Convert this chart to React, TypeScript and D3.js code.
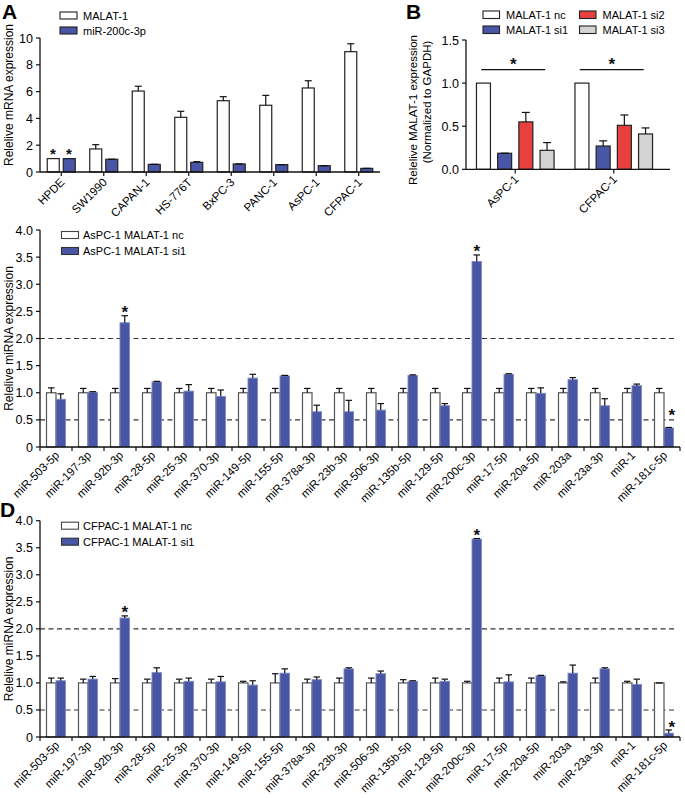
import React from "react";
import * as d3 from "d3";

// ---------- Panel A ----------
const aCats = ["HPDE", "SW1990", "CAPAN-1", "HS-776T", "BxPC-3", "PANC-1", "AsPC-1", "CFPAC-1"];
const aSeries = ["MALAT-1", "miR-200c-3p"];
const aMalat = [1.0, 1.72, 6.04, 4.08, 5.32, 4.98, 6.27, 8.98];
const aMalatErr = [0, 0.32, 0.36, 0.45, 0.3, 0.74, 0.54, 0.59];
const aMir = [1.0, 0.95, 0.57, 0.72, 0.6, 0.55, 0.47, 0.27];
const aMirErr = [0, 0.02, 0.02, 0.05, 0.03, 0.02, 0.03, 0.02];
const aTicks = [0, 2, 4, 6, 8, 10];

// ---------- Panel B ----------
const bCats = ["AsPC-1", "CFPAC-1"];
const bSeries = ["MALAT-1 nc", "MALAT-1 si1", "MALAT-1 si2", "MALAT-1 si3"];
const bNc = [1.0, 1.0];
const bNcErr = [0, 0];
const bSi1 = [0.186, 0.27];
const bSi1Err = [0.005, 0.06];
const bSi2 = [0.55, 0.51];
const bSi2Err = [0.11, 0.12];
const bSi3 = [0.22, 0.41];
const bSi3Err = [0.09, 0.07];
const bTicks = [0, 0.5, 1.0, 1.5];

// ---------- Panels C & D ----------
const mirs = [
  "miR-503-5p", "miR-197-3p", "miR-92b-3p", "miR-28-5p", "miR-25-3p", "miR-370-3p", "miR-149-5p",
  "miR-155-5p", "miR-378a-3p", "miR-23b-3p", "miR-506-3p", "miR-135b-5p", "miR-129-5p", "miR-200c-3p",
  "miR-17-5p", "miR-20a-5p", "miR-203a", "miR-23a-3p", "miR-1", "miR-181c-5p",
];
const cNc = [1, 1, 1, 1, 1, 1, 1, 1, 1, 1, 1, 1, 1, 1, 1, 1, 1, 1, 1, 1];
const cNcErr = [0.09, 0.08, 0.08, 0.08, 0.08, 0.08, 0.08, 0.08, 0.08, 0.08, 0.08, 0.08, 0.08, 0.08, 0.08, 0.08, 0.08, 0.08, 0.08, 0.08];
const cSi1 = [0.88, 1.01, 2.29, 1.2, 1.03, 0.93, 1.27, 1.31, 0.65, 0.65, 0.68, 1.32, 0.76, 3.42, 1.34, 0.99, 1.24, 0.76, 1.13, 0.35];
const cSi1Err = [0.1, 0.01, 0.13, 0.01, 0.12, 0.12, 0.07, 0.01, 0.12, 0.21, 0.12, 0.01, 0.04, 0.12, 0.01, 0.1, 0.04, 0.13, 0.03, 0.01];
const dNc = [1, 1, 1, 1, 1, 1, 1, 1, 1, 1, 1, 1, 1, 1, 1, 1, 1, 1, 1, 1];
const dNcErr = [0.09, 0.07, 0.08, 0.07, 0.07, 0.07, 0.03, 0.17, 0.07, 0.09, 0.09, 0.06, 0.09, 0.03, 0.09, 0.09, 0.02, 0.09, 0.03, 0.0];
const dSi1 = [1.04, 1.07, 2.2, 1.19, 1.03, 1.02, 0.96, 1.18, 1.06, 1.26, 1.17, 1.03, 1.03, 3.66, 1.02, 1.13, 1.18, 1.26, 0.97, 0.07];
const dSi1Err = [0.05, 0.05, 0.04, 0.09, 0.06, 0.1, 0.08, 0.08, 0.05, 0.02, 0.05, 0.01, 0.04, 0.01, 0.13, 0.01, 0.15, 0.02, 0.1, 0.06];
const cdTicks = [0, 0.5, 1.0, 1.5, 2.0, 2.5, 3.0, 3.5, 4.0];
const refLines = [0.5, 2.0];

const FONT = "'Liberation Sans', Arial, Helvetica, sans-serif";
const BLUE = "#4856a5";
const RED = "#e8403f";
const GRAY = "#d4d4d4";

function ErrBar({ x, yTop, yErr, cap }: { x: number; yTop: number; yErr: number; cap: number }) {
  if (Math.abs(yTop - yErr) < 0.5) {
    return <line x1={x - cap / 2} x2={x + cap / 2} y1={yTop} y2={yTop} stroke="#111" strokeWidth={1.3} />;
  }
  return (
    <g stroke="#111" strokeWidth={1.2}>
      <line x1={x} x2={x} y1={yTop} y2={yErr} />
      <line x1={x - cap / 2} x2={x + cap / 2} y1={yErr} y2={yErr} />
    </g>
  );
}

function Star({ x, y, size = 16 }: { x: number; y: number; size?: number }) {
  return (
    <text x={x} y={y} textAnchor="middle" fontSize={size} fontWeight="bold" fontFamily={FONT} fill="#111">
      *
    </text>
  );
}

function PanelA() {
  const x = d3.scaleBand<string>().domain(aCats).range([40, 380]);
  const y = d3.scaleLinear().domain([0, 10]).range([172, 38]);
  const sub = d3.scaleBand<string>().domain(aSeries).range([-16, 16]).paddingInner(0.25).paddingOuter(0.125);
  const bw = sub.bandwidth();
  return (
    <g fontFamily={FONT}>
      <text x={2} y={19} fontSize={21} fontWeight="bold">A</text>
      {aCats.map((c, i) => {
        const cx = (x(c) as number) + x.bandwidth() / 2;
        const x0 = cx + (sub(aSeries[0]) as number);
        const x1 = cx + (sub(aSeries[1]) as number);
        return (
          <g key={c}>
            <rect x={x0} y={y(aMalat[i])} width={bw} height={y(0) - y(aMalat[i])} fill="#fff" stroke="#222" strokeWidth={1.2} />
            <rect x={x1} y={y(aMir[i])} width={bw} height={y(0) - y(aMir[i])} fill={BLUE} stroke="#222" strokeWidth={1.2} />
            {aMalatErr[i] > 0 && <ErrBar x={x0 + bw / 2} yTop={y(aMalat[i])} yErr={y(aMalat[i] + aMalatErr[i])} cap={7} />}
            {aMirErr[i] > 0 && <ErrBar x={x1 + bw / 2} yTop={y(aMir[i])} yErr={y(aMir[i] + aMirErr[i])} cap={7} />}
            <line x1={cx} x2={cx} y1={172} y2={176} stroke="#111" strokeWidth={1.2} />
            <text transform={`translate(${cx + 4},${183}) rotate(-45)`} textAnchor="end" fontSize={11.5}>{c}</text>
          </g>
        );
      })}
      <Star x={53} y={y(1) + 0.5} size={15} />
      <Star x={69} y={y(1) + 0.5} size={15} />
      <line x1={40} x2={380} y1={172} y2={172} stroke="#111" strokeWidth={1.3} />
      <line x1={40} x2={40} y1={38} y2={172} stroke="#111" strokeWidth={1.3} />
      {aTicks.map((t) => (
        <g key={t}>
          <line x1={36} x2={40} y1={y(t)} y2={y(t)} stroke="#111" strokeWidth={1.2} />
          <text x={33} y={y(t) + 4.5} textAnchor="end" fontSize={12.5}>{t}</text>
        </g>
      ))}
      <text transform={`translate(${13},${95}) rotate(-90)`} textAnchor="middle" fontSize={12}>Relelive mRNA expression</text>
      <rect x={60} y={12} width={17} height={7} fill="#fff" stroke="#222" strokeWidth={1.1} />
      <text x={83} y={19.5} fontSize={11}>{aSeries[0]}</text>
      <rect x={60} y={27} width={17} height={7} fill={BLUE} stroke="#222" strokeWidth={1.1} />
      <text x={83} y={34.5} fontSize={11}>{aSeries[1]}</text>
    </g>
  );
}

function PanelB() {
  const x = d3.scaleBand<string>().domain(bCats).range([466, 663]);
  const y = d3.scaleLinear().domain([0, 1.5]).range([169.3, 40]);
  const sub = d3.scaleBand<string>().domain(bSeries).range([-42.4, 42.4]).paddingInner(0.34).paddingOuter(0.17);
  const bw = sub.bandwidth();
  const vals = [bNc, bSi1, bSi2, bSi3];
  const errs = [bNcErr, bSi1Err, bSi2Err, bSi3Err];
  const fills = ["#fff", BLUE, RED, GRAY];
  return (
    <g fontFamily={FONT}>
      <text x={406} y={19} fontSize={21} fontWeight="bold">B</text>
      {bCats.map((c, i) => {
        const cx = (x(c) as number) + x.bandwidth() / 2;
        return (
          <g key={c}>
            {bSeries.map((s, k) => {
              const bx = cx + (sub(s) as number);
              const v = vals[k][i];
              return (
                <g key={s}>
                  <rect x={bx} y={y(v)} width={bw} height={y(0) - y(v)} fill={fills[k]} stroke="#222" strokeWidth={1.2} />
                  {errs[k][i] > 0 && <ErrBar x={bx + bw / 2} yTop={y(v)} yErr={y(v + errs[k][i])} cap={8} />}
                </g>
              );
            })}
            <line x1={cx - 34} x2={cx + 30} y1={69.7} y2={69.7} stroke="#111" strokeWidth={1.2} />
            <Star x={cx - 2} y={70} size={17} />
            <line x1={cx} x2={cx} y1={169.3} y2={173.5} stroke="#111" strokeWidth={1.2} />
            <text transform={`translate(${cx + 4},${180}) rotate(-45)`} textAnchor="end" fontSize={11.5}>{c}</text>
          </g>
        );
      })}
      <line x1={466} x2={670} y1={169.3} y2={169.3} stroke="#111" strokeWidth={1.3} />
      <line x1={466} x2={466} y1={40} y2={169.3} stroke="#111" strokeWidth={1.3} />
      {bTicks.map((t) => (
        <g key={t}>
          <line x1={462} x2={466} y1={y(t)} y2={y(t)} stroke="#111" strokeWidth={1.2} />
          <text x={459} y={y(t) + 4.5} textAnchor="end" fontSize={12.5}>{d3.format(".1f")(t)}</text>
        </g>
      ))}
      <text transform={`translate(${417},${110}) rotate(-90)`} textAnchor="middle" fontSize={11.5}>Relelive MALAT-1 expression</text>
      <text transform={`translate(${431},${102}) rotate(-90)`} textAnchor="middle" fontSize={11.5}>(Normalized to GAPDH)</text>
      {bSeries.map((s, k) => {
        const lx = k < 2 ? 483 : 579.5;
        const ly = k % 2 === 0 ? 11 : 26;
        return (
          <g key={s}>
            <rect x={lx} y={ly} width={16.5} height={7.5} fill={fills[k]} stroke="#222" strokeWidth={1.1} />
            <text x={lx + 23} y={ly + 8} fontSize={11}>{s}</text>
          </g>
        );
      })}
    </g>
  );
}

function PanelCD({ y0, y4, nc, ncErr, si, siErr, legend, letter, stars, lastStarBaseline }:
  { y0: number; y4: number; nc: number[]; ncErr: number[]; si: number[]; siErr: number[]; legend: string[]; letter: string; stars: number[]; lastStarBaseline: number }) {
  const x = d3.scaleBand<string>().domain(mirs).range([40, 680]);
  const y = d3.scaleLinear().domain([0, 4]).range([y0, y4]);
  const sub = d3.scaleBand<string>().domain(legend).range([-9.5, 9.5]);
  const bw = sub.bandwidth();
  const fmt = (t: number) => (t === 0 ? "0" : d3.format(".1f")(t));
  return (
    <g fontFamily={FONT}>
      {letter && <text x={0} y={y4 - 4} fontSize={21} fontWeight="bold">{letter}</text>}
      {refLines.map((r) => (
        <line key={r} x1={40} x2={676} y1={y(r)} y2={y(r)} stroke="#333" strokeWidth={1.1} strokeDasharray="5,3.5" />
      ))}
      {mirs.map((m, i) => {
        const cx = (x(m) as number) + x.bandwidth() / 2;
        const x0 = cx + (sub(legend[0]) as number);
        const x1 = cx + (sub(legend[1]) as number);
        return (
          <g key={m}>
            <rect x={x0} y={y(nc[i])} width={bw} height={y(0) - y(nc[i])} fill="#fff" stroke="#555" strokeWidth={1.2} />
            <rect x={x1} y={y(si[i])} width={bw} height={y(0) - y(si[i])} fill={BLUE} stroke="#7d8ac6" strokeWidth={0.9} />
            <ErrBar x={x0 + bw / 2} yTop={y(nc[i])} yErr={y(nc[i] + ncErr[i])} cap={6.5} />
            <ErrBar x={x1 + bw / 2} yTop={y(si[i])} yErr={y(si[i] + siErr[i])} cap={6.5} />
            <text transform={`translate(${cx + 4},${y0 + 9}) rotate(-45)`} textAnchor="end" fontSize={11.5}>{m}</text>
          </g>
        );
      })}
      {stars.map((i) => {
        const cx = (x(mirs[i]) as number) + x.bandwidth() / 2 + bw / 2;
        const last = i === mirs.length - 1;
        return <Star key={i} x={cx + (last ? 3 : 0)} y={last ? lastStarBaseline : y(si[i] + siErr[i]) + 2} size={17} />;
      })}
      <line x1={40} x2={680} y1={y0} y2={y0} stroke="#111" strokeWidth={1.3} />
      {d3.range(mirs.length + 1).map((k) => {
        const tx = k < mirs.length ? (x(mirs[k]) as number) : 680;
        return <line key={k} x1={tx} x2={tx} y1={y0} y2={y0 + 4} stroke="#111" strokeWidth={1.2} />;
      })}
      <line x1={40} x2={40} y1={y4} y2={y0} stroke="#111" strokeWidth={1.3} />
      {cdTicks.map((t) => (
        <g key={t}>
          <line x1={36} x2={40} y1={y(t)} y2={y(t)} stroke="#111" strokeWidth={1.2} />
          <text x={33} y={y(t) + 4.5} textAnchor="end" fontSize={12.5}>{fmt(t)}</text>
        </g>
      ))}
      <text transform={`translate(${13},${(y0 + y4) / 2}) rotate(-90)`} textAnchor="middle" fontSize={12}>Relelive miRNA expression</text>
      <rect x={61.5} y={y4 + 1.5} width={17} height={7} fill="#fff" stroke="#444" strokeWidth={1.1} />
      <text x={83} y={y4 + 9} fontSize={11}>{legend[0]}</text>
      <rect x={61.5} y={y4 + 17.5} width={17} height={7} fill={BLUE} stroke="#333" strokeWidth={1.1} />
      <text x={83} y={y4 + 25} fontSize={11}>{legend[1]}</text>
    </g>
  );
}

export default function App() {
  return (
    <svg width={685} height={798} viewBox="0 0 685 798" style={{ position: "absolute", left: 0, top: 0, background: "#fff" }}>
      <rect x={0} y={0} width={685} height={798} fill="#fff" />
      <PanelA />
      <PanelB />
      <PanelCD y0={447} y4={230} nc={cNc} ncErr={cNcErr} si={cSi1} siErr={cSi1Err}
        legend={["AsPC-1 MALAT-1 nc", "AsPC-1 MALAT-1 si1"]} letter="" stars={[2, 13, 19]} lastStarBaseline={421} />
      <PanelCD y0={737} y4={520.7} nc={dNc} ncErr={dNcErr} si={dSi1} siErr={dSi1Err}
        legend={["CFPAC-1 MALAT-1 nc", "CFPAC-1 MALAT-1 si1"]} letter="D" stars={[2, 13, 19]} lastStarBaseline={733} />
    </svg>
  );
}
